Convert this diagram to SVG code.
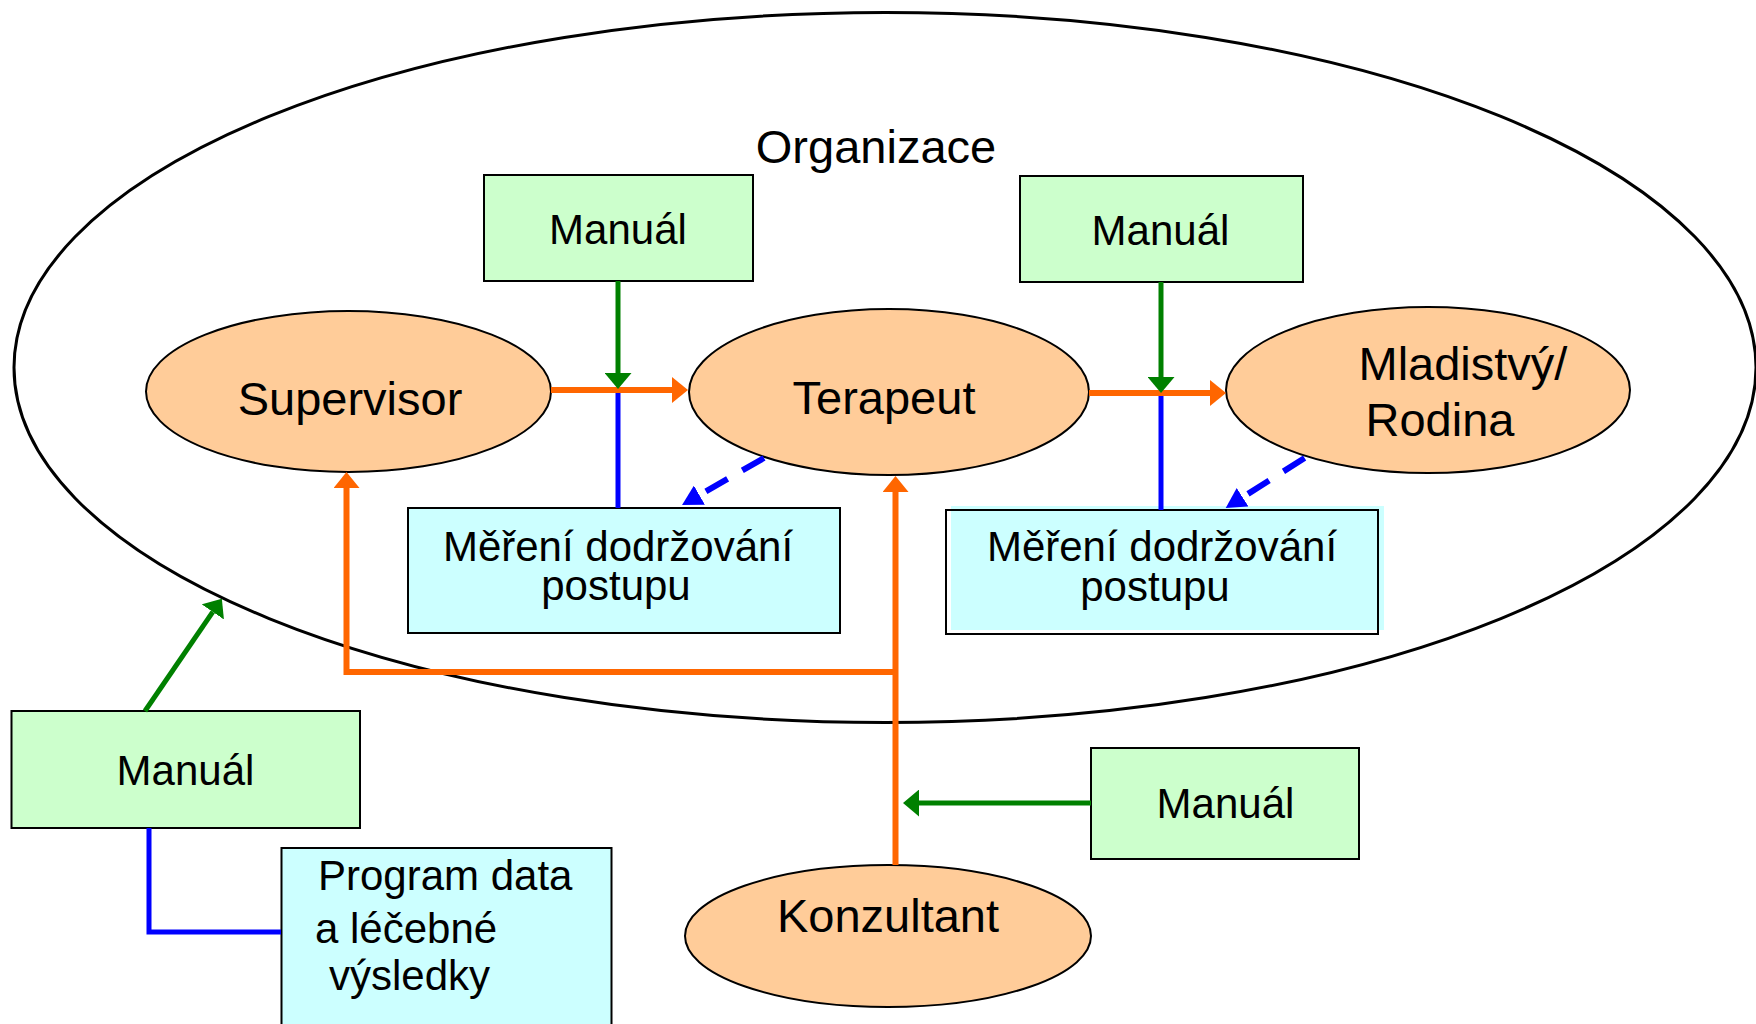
<svg xmlns="http://www.w3.org/2000/svg" width="1756" height="1024" viewBox="0 0 1756 1024">
<style>
text{font-family:"Liberation Sans",Arial,Helvetica,sans-serif;fill:#000}
.big{font-size:47px}
.mid{font-size:42px}
.role{fill:#FFCC99;stroke:#000;stroke-width:2}
.man{fill:#CCFFCC;stroke:#000;stroke-width:2}
.meas{fill:#CCFFFF;stroke:#000;stroke-width:2}
.or{fill:none;stroke:#FF6600;stroke-width:6}
.gr{fill:none;stroke:#008000;stroke-width:5}
.bl{fill:none;stroke:#0000FF;stroke-width:5}
.bld{fill:none;stroke:#0000FF;stroke-width:6;stroke-dasharray:25 17}
</style>
<defs>
<marker id="ao" markerUnits="userSpaceOnUse" viewBox="0 0 16 26" refX="0" refY="13" markerWidth="16" markerHeight="26" orient="auto"><path d="M0,0 L16,13 L0,26 z" fill="#FF6600"/></marker>
<marker id="ag" markerUnits="userSpaceOnUse" viewBox="0 0 16 27" refX="0" refY="13.5" markerWidth="16" markerHeight="27" orient="auto"><path d="M0,0 L16,13.5 L0,27 z" fill="#008000"/></marker>
<marker id="ab" markerUnits="userSpaceOnUse" viewBox="0 0 20 22" refX="0" refY="11" markerWidth="20" markerHeight="22" orient="auto"><path d="M0,0 L20,11 L0,22 z" fill="#0000FF"/></marker>
</defs>
<rect width="1756" height="1024" fill="#fff"/>

<g id="organizace">
<ellipse cx="885" cy="367.5" rx="871" ry="355" fill="none" stroke="#000" stroke-width="3"/>
<text class="big" x="876" y="163" text-anchor="middle">Organizace</text>
</g>

<g id="manual1"><rect class="man" x="484" y="175" width="269" height="106"/><text class="mid" x="618" y="244" text-anchor="middle">Manuál</text></g>
<g id="manual2"><rect class="man" x="1020" y="176" width="283" height="106"/><text class="mid" x="1160.5" y="245" text-anchor="middle">Manuál</text></g>
<g id="manual3"><rect class="man" x="11.5" y="711" width="348.5" height="117"/><text class="mid" x="185.5" y="785" text-anchor="middle">Manuál</text></g>
<g id="manual4"><rect class="man" x="1091" y="748" width="268" height="111"/><text class="mid" x="1225.5" y="818" text-anchor="middle">Manuál</text></g>

<g id="supervisor"><ellipse class="role" cx="348.5" cy="391.5" rx="202.5" ry="80.5"/><text class="big" x="350" y="415" text-anchor="middle">Supervisor</text></g>
<g id="terapeut"><ellipse class="role" cx="889" cy="392" rx="200" ry="83"/><text class="big" x="884" y="414" text-anchor="middle">Terapeut</text></g>
<g id="mladistvy"><ellipse class="role" cx="1428" cy="390" rx="202" ry="83"/><text class="big" x="1358.5" y="380">Mladistvý/</text><text class="big" x="1365.5" y="436">Rodina</text></g>
<g id="konzultant"><ellipse class="role" cx="888" cy="936" rx="203" ry="71"/><text class="big" x="888" y="932" text-anchor="middle">Konzultant</text></g>

<g id="mereni1"><rect class="meas" x="408" y="508" width="432" height="125"/><text class="mid" x="618" y="561" text-anchor="middle">Měření dodržování</text><text class="mid" x="616" y="600" text-anchor="middle">postupu</text></g>
<g id="mereni2"><rect x="951" y="506" width="433" height="124" fill="#CCFFFF"/><rect x="946" y="510" width="432" height="124" fill="none" stroke="#000" stroke-width="2"/><text class="mid" x="1162" y="561" text-anchor="middle">Měření dodržování</text><text class="mid" x="1155" y="601" text-anchor="middle">postupu</text></g>
<g id="program"><rect class="meas" x="281.5" y="848" width="330" height="190"/><text class="mid" x="318" y="890">Program data</text><text class="mid" x="315" y="943">a léčebné</text><text class="mid" x="329" y="990">výsledky</text></g>

<g id="connectors">
<path class="bl" d="M618,390 V508"/>
<path class="bl" d="M1161,393 V510"/>
<path class="or" d="M551,390 H672" marker-end="url(#ao)"/>
<path class="or" d="M1089,393 H1210" marker-end="url(#ao)"/>
<path class="gr" d="M618,281 V373" marker-end="url(#ag)"/>
<path class="gr" d="M1161,282 V377" marker-end="url(#ag)"/>
<path class="bld" d="M764,458 L699.4,495.1" marker-end="url(#ab)"/>
<path class="bld" d="M1304.6,458 L1242.6,497.3" marker-end="url(#ab)"/>
<path class="or" d="M895.5,865 V492" marker-end="url(#ao)"/>
<path class="or" d="M895.5,672 H346.5 V488" marker-end="url(#ao)"/>
<path class="gr" d="M1091,803 H919" marker-end="url(#ag)"/>
<path class="gr" d="M145,711 L212.8,611.9" marker-end="url(#ag)"/>
<path class="bl" d="M149,828 V932 H281"/>
</g>
</svg>
